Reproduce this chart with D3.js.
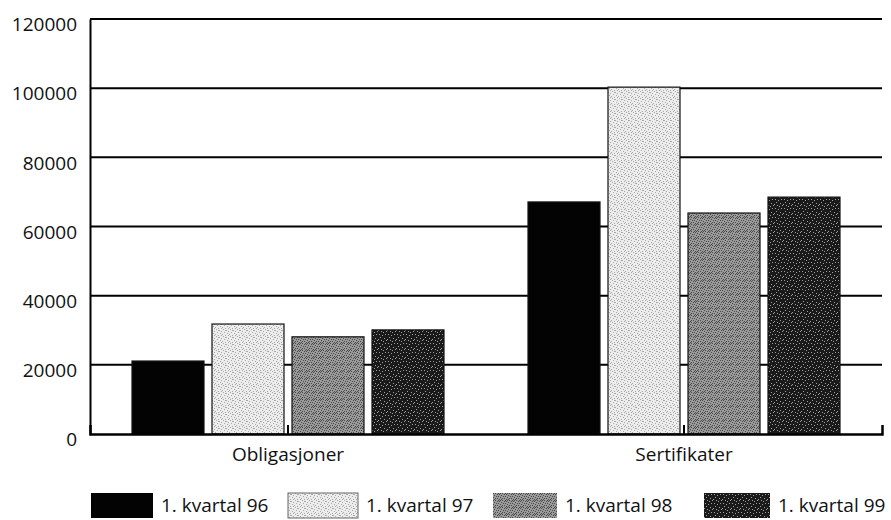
<!DOCTYPE html>
<html><head><meta charset="utf-8">
<script src="https://cdn.jsdelivr.net/npm/d3@7"></script>
<style>body{margin:0;background:#fff}svg{display:block}text{font-family:"Open Sans",sans-serif;fill:#111}</style>
</head><body>
<script>
const categories = ["Obligasjoner", "Sertifikater"];
const seriesNames = ["1. kvartal 96", "1. kvartal 97", "1. kvartal 98", "1. kvartal 99"];
const values96 = [21100, 67100];
const values97 = [31800, 100300];
const values98 = [28100, 63900];
const values99 = [30100, 68500];
const yTicks = [0, 20000, 40000, 60000, 80000, 100000, 120000];

(function () {
const seriesValues = [values96, values97, values98, values99];
const W = 891, H = 520;
const svg = d3.select("body").append("svg").attr("width", W).attr("height", H);
const defs = svg.append("defs");

function pat(id, size, bg, dots, dotColor) {
  const p = defs.append("pattern").attr("id", id).attr("patternUnits", "userSpaceOnUse")
    .attr("width", size).attr("height", size);
  p.append("rect").attr("width", size).attr("height", size).attr("fill", bg);
  dots.forEach(([x, y]) => p.append("rect").attr("x", x).attr("y", y).attr("width", 1).attr("height", 1).attr("fill", dotColor));
}
pat("p96", 2, "#030303", [], "#000");
pat("p97", 7, "#ececec", [[0,0],[3,1],[5,2],[1,3],[4,4],[6,5],[2,6],[5,6],[2,1]], "#a8a8a8");
pat("p98", 7, "#9a9a9a", [[0,0],[2,0],[4,1],[6,1],[1,2],[3,3],[5,3],[0,4],[2,5],[4,5],[6,6],[1,6],[5,0]], "#4a4a4a");
pat("p99", 9, "#1a1a1a", [[1,1],[4,2],[7,1],[2,4],[6,5],[3,7],[8,7],[0,6],[5,8]], "#a0a0a0");
const fills = ["url(#p96)", "url(#p97)", "url(#p98)", "url(#p99)"];

const mLeft = 90, mRight = 882, mTop = 19, mBottom = 434;
const y = d3.scaleLinear().domain([0, 120000]).range([mBottom, mTop]);
const x0 = d3.scaleBand().domain(categories).range([mLeft, mRight]).padding(0);
const x1 = d3.scaleBand().domain(seriesNames).range([0, x0.bandwidth()]).paddingInner(0.1).paddingOuter(0.525);

svg.append("g").selectAll("line").data(yTicks.filter(d => d > 0)).join("line")
  .attr("x1", mLeft).attr("x2", mRight).attr("y1", d => y(d)).attr("y2", d => y(d))
  .attr("stroke", "#000").attr("stroke-width", 2);

const yAxis = d3.axisLeft(y).tickValues(yTicks).tickSize(0).tickPadding(13).tickFormat(d3.format("d"));
const gy = svg.append("g").attr("transform", `translate(${mLeft},0)`).call(yAxis);
gy.select(".domain").attr("stroke", "#000").attr("stroke-width", 2);
gy.selectAll("text").attr("font-size", 19).attr("dy", "0.62em").attr("font-family", "Open Sans, sans-serif").attr("fill", "#222");

const groups = svg.append("g").selectAll("g").data(categories).join("g")
  .attr("transform", d => `translate(${x0(d)},0)`);
groups.selectAll("rect").data((c, ci) => seriesNames.map((s, si) => ({s, si, v: seriesValues[si][ci]}))).join("rect")
  .attr("x", d => x1(d.s)).attr("width", x1.bandwidth())
  .attr("y", d => y(d.v)).attr("height", d => mBottom - y(d.v))
  .attr("fill", d => fills[d.si]).attr("stroke", "#111").attr("stroke-width", 1.2);

const xAxis = d3.axisBottom(x0).tickSize(-9).tickPadding(14);
const gx = svg.append("g").attr("transform", `translate(0,${mBottom})`).call(xAxis);
gx.select(".domain").attr("stroke", "#000").attr("stroke-width", 2.5);
gx.selectAll(".tick line").attr("stroke", "#000").attr("stroke-width", 2);
gx.selectAll("text").attr("font-size", 19).attr("font-family", "Open Sans, sans-serif").attr("fill", "#222");

const legX = [91, 288, 493, 704];
const legW = [62, 70, 64, 66];
const leg = svg.append("g").selectAll("g").data(seriesNames).join("g")
  .attr("transform", (d, i) => `translate(${legX[i]},493)`);
leg.append("rect").attr("width", (d, i) => legW[i]).attr("height", 25)
  .attr("fill", (d, i) => fills[i]).attr("stroke", (d, i) => i === 1 ? "#666" : "none");
leg.append("text").attr("x", (d, i) => legW[i] + 8).attr("y", 19)
  .attr("font-size", 19).attr("fill", "#222").text(d => d);
})();
</script>
</body></html>
